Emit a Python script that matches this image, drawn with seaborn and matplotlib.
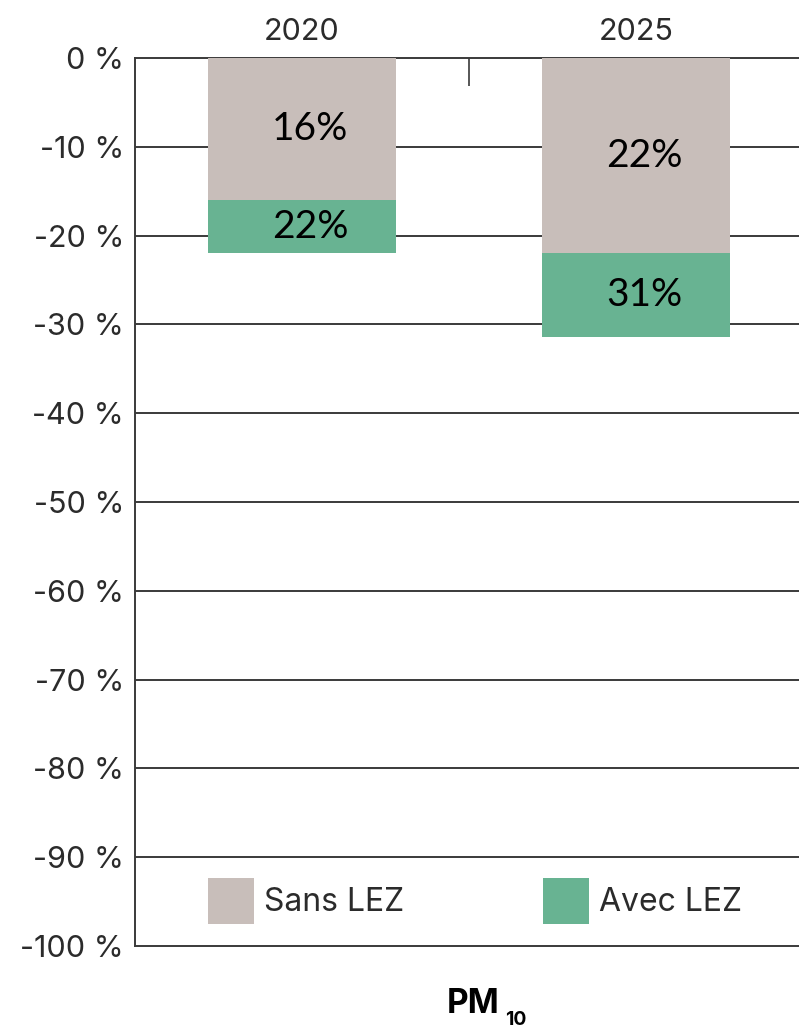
import matplotlib
matplotlib.use("Agg")
import matplotlib.pyplot as plt
import seaborn as sns
import pandas as pd
from matplotlib.patches import Patch

years = ["2020", "2025"]
sans_lez = [16, 22]
avec_lez = [22, 31.4]
series_names = ["Sans LEZ", "Avec LEZ"]
y_ticks = [0, -10, -20, -30, -40, -50, -60, -70, -80, -90, -100]

gray = "#C8BEBA"
green = "#68B392"
line_col = "#3a3a3a"
text_col = "#2b2b2b"

sns.set_theme(style="white")
plt.rcParams["font.family"] = ["Inter", "DejaVu Sans"]

df = pd.DataFrame({"year": years,
                   "sans": [-v for v in sans_lez],
                   "avec": [-v for v in avec_lez]})

fig = plt.figure(figsize=(7.99, 10.28), dpi=100)
ax = fig.add_axes([135/799, (1028-946)/1028, 668/799, (946-58)/1028])

sns.barplot(data=df, x="year", y="avec", color=green, width=0.56,
            saturation=1, ax=ax, zorder=3, linewidth=0, edgecolor="none")
sns.barplot(data=df, x="year", y="sans", color=gray, width=0.56,
            saturation=1, ax=ax, zorder=3, linewidth=0, edgecolor="none")

ax.set_ylim(-100, 0)
ax.set_xlim(-0.5, 1.5)
ax.set_yticks(y_ticks)
ax.set_yticklabels([f"{t} %" for t in y_ticks])
ax.set_xlabel("")
ax.set_ylabel("")

for y in y_ticks[1:-1]:
    ax.axhline(y, color=line_col, lw=1.4, zorder=1)

for s in ["top", "left", "bottom"]:
    ax.spines[s].set_visible(True)
    ax.spines[s].set_color(line_col)
    ax.spines[s].set_linewidth(1.4)
ax.spines["right"].set_visible(False)

ax.xaxis.tick_top()
ax.tick_params(axis="x", which="major", length=0, pad=9, labelsize=22,
               labelcolor=text_col)
ax.set_xticks([0.5], minor=True)
ax.tick_params(axis="x", which="minor", direction="in", length=20,
               width=1.2, color=line_col, top=True, bottom=False)
ax.tick_params(axis="y", length=0, pad=8, labelsize=22, labelcolor=text_col)

# value labels
for i in range(len(years)):
    s = sans_lez[i]
    a = avec_lez[i]
    ax.text(i + 0.025, -s / 2, f"{round(s)}%", ha="center", va="center",
            fontsize=28, color="black", family=["Lato", "DejaVu Sans"], zorder=5)
    ax.text(i + 0.025, -(s + a) / 2, f"{round(a)}%", ha="center", va="center",
            fontsize=28, color="black", family=["Lato", "DejaVu Sans"], zorder=5)

handles = [Patch(facecolor=gray, edgecolor="none"),
           Patch(facecolor=green, edgecolor="none")]
leg = ax.legend(handles, series_names, ncol=2, loc="lower left",
                bbox_to_anchor=((208-135)/668, (946-924)/888), frameon=False,
                fontsize=23, borderpad=0, borderaxespad=0,
                handlelength=1.45, handleheight=1.85, handletextpad=0.3,
                columnspacing=4.35, labelcolor=text_col)

fig.text(447/799, 1 - 1013/1028, "PM", fontsize=24, fontweight="bold",
         color="black", ha="left", va="baseline")
fig.text(505/799, 1 - 1025/1028, "10", fontsize=14, fontweight="bold",
         color="black", ha="left", va="baseline")

fig.savefig("out.png", dpi=100)
